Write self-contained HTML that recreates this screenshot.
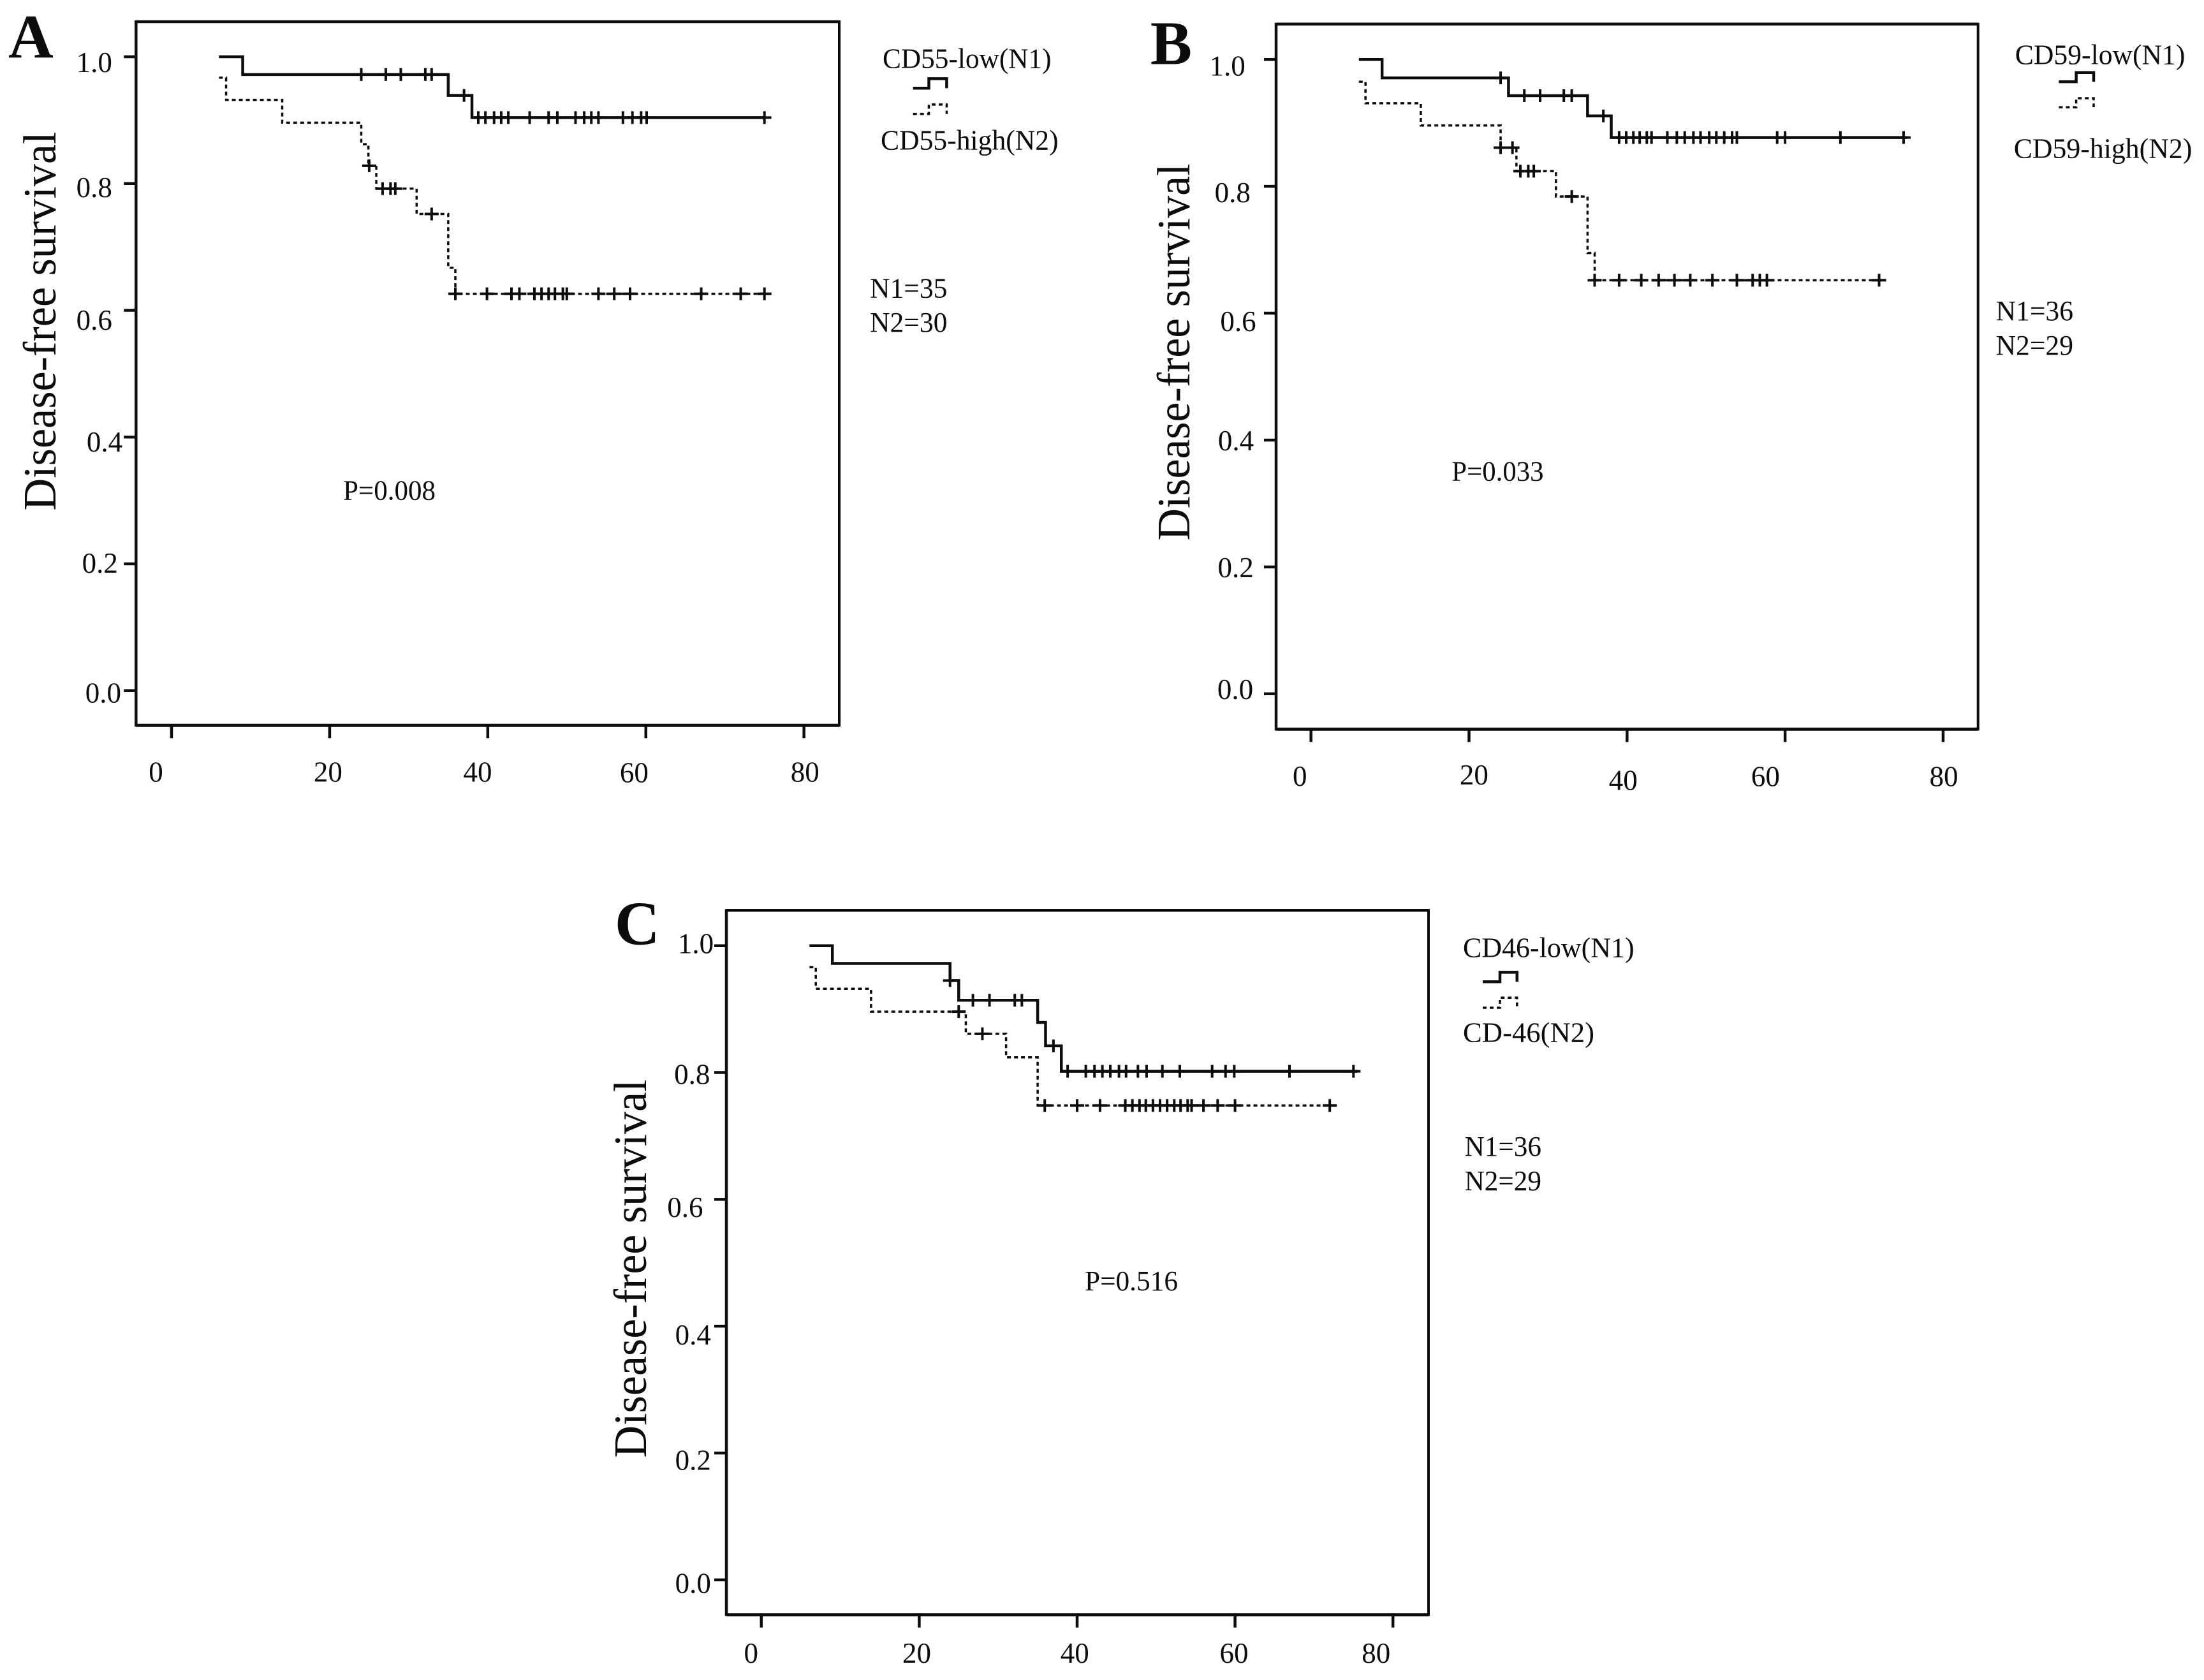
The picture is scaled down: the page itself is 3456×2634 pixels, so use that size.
<!DOCTYPE html>
<html lang="en">
<head>
<meta charset="utf-8">
<title>Disease-free survival by CD55, CD59 and CD46 expression</title>
<style>
html,body{margin:0;padding:0;background:#fff;}
svg{display:block;}
text{font-family:"Liberation Serif","Times New Roman",serif;fill:#0c0c0c;}
.tick{font-size:45px;text-anchor:middle;}
.legend{font-size:44px;}
.title{font-size:73px;text-anchor:middle;}
.letter{font-size:98px;font-weight:bold;}
.frame{stroke:#0c0c0c;fill:none;}
</style>
</head>
<body>
<svg id="figure" xmlns="http://www.w3.org/2000/svg" width="3456" height="2634" viewBox="0 0 3456 2634">
<rect x="0" y="0" width="3456" height="2634" fill="#fff"/>

<g id="panel-a">
<text class="letter" x="13" y="90.5">A</text>
<text class="title" transform="translate(87 503.5) rotate(-90)" textLength="594" lengthAdjust="spacingAndGlyphs">Disease-free survival</text>
<text class="tick" x="147.8" y="112.9">1.0</text>
<text class="tick" x="147.8" y="308.9">0.8</text>
<text class="tick" x="147.8" y="517">0.6</text>
<text class="tick" x="164" y="708">0.4</text>
<text class="tick" x="156.8" y="898">0.2</text>
<text class="tick" x="161.9" y="1101.7">0.0</text>
<text class="tick" x="244.5" y="1225.3">0</text>
<text class="tick" x="514.4" y="1225.3">20</text>
<text class="tick" x="749" y="1225.3">40</text>
<text class="tick" x="994.4" y="1226.3">60</text>
<text class="tick" x="1262.3" y="1225.3">80</text>
<text class="legend" x="1384" y="106.3" textLength="264.6" lengthAdjust="spacingAndGlyphs">CD55-low(N1)</text>
<path class="frame" stroke-width="4.5" d="M1431.7 138.3H1456.5V123.4H1484.4V138.3"/>
<path class="frame" stroke-width="3.5" stroke-dasharray="6 5" d="M1431.7 178.6H1456.5V163.9H1484.4V178.6"/>
<text class="legend" x="1381" y="234.4" textLength="278.6" lengthAdjust="spacingAndGlyphs">CD55-high(N2)</text>
<text class="legend" x="1364" y="466.6" textLength="121.4" lengthAdjust="spacingAndGlyphs">N1=35</text>
<text class="legend" x="1364" y="520" textLength="121.4" lengthAdjust="spacingAndGlyphs">N2=30</text>
<text class="legend" x="538" y="783.4" textLength="145" lengthAdjust="spacingAndGlyphs">P=0.008</text>
</g>

<g id="panel-b">
<text class="letter" x="1803.7" y="100.4">B</text>
<text class="title" transform="translate(1865 552) rotate(-90)" textLength="591" lengthAdjust="spacingAndGlyphs">Disease-free survival</text>
<text class="tick" x="1924.6" y="118.4">1.0</text>
<text class="tick" x="1932.8" y="317">0.8</text>
<text class="tick" x="1941.5" y="519.2">0.6</text>
<text class="tick" x="1938" y="706">0.4</text>
<text class="tick" x="1937.6" y="904.8">0.2</text>
<text class="tick" x="1937" y="1096">0.0</text>
<text class="tick" x="2038.3" y="1231.9">0</text>
<text class="tick" x="2311.4" y="1230">20</text>
<text class="tick" x="2545.3" y="1238.7">40</text>
<text class="tick" x="2768.4" y="1232.3">60</text>
<text class="tick" x="3048" y="1232.3">80</text>
<text class="legend" x="3159.8" y="100.5" textLength="266.6" lengthAdjust="spacingAndGlyphs">CD59-low(N1)</text>
<path class="frame" stroke-width="4.5" d="M3228.4 128.1H3255.6V113.8H3283V128.1"/>
<path class="frame" stroke-width="3.5" stroke-dasharray="6 5" d="M3228.4 168.1H3255.6V154H3283V168.1"/>
<text class="legend" x="3157.7" y="247.7" textLength="279.6" lengthAdjust="spacingAndGlyphs">CD59-high(N2)</text>
<text class="legend" x="3129.6" y="502.2" textLength="121.4" lengthAdjust="spacingAndGlyphs">N1=36</text>
<text class="legend" x="3129.6" y="555.8" textLength="121.4" lengthAdjust="spacingAndGlyphs">N2=29</text>
<text class="legend" x="2276.3" y="753.5" textLength="144.3" lengthAdjust="spacingAndGlyphs">P=0.033</text>
</g>

<g id="panel-c">
<text class="letter" x="963.9" y="1480.6">C</text>
<text class="title" transform="translate(1013 1989) rotate(-90)" textLength="593" lengthAdjust="spacingAndGlyphs">Disease-free survival</text>
<text class="tick" x="1091" y="1494.5">1.0</text>
<text class="tick" x="1085.3" y="1699.5">0.8</text>
<text class="tick" x="1074.4" y="1908">0.6</text>
<text class="tick" x="1086.8" y="2108">0.4</text>
<text class="tick" x="1086.8" y="2304.5">0.2</text>
<text class="tick" x="1086.8" y="2497.6">0.0</text>
<text class="tick" x="1177.8" y="2607">0</text>
<text class="tick" x="1437.5" y="2607">20</text>
<text class="tick" x="1685.2" y="2607">40</text>
<text class="tick" x="1935" y="2607">60</text>
<text class="tick" x="2157.8" y="2607">80</text>
<text class="legend" x="2294" y="1500.5" textLength="268.6" lengthAdjust="spacingAndGlyphs">CD46-low(N1)</text>
<path class="frame" stroke-width="4.5" d="M2325 1539.3H2352V1524.4H2378.8V1539.3"/>
<path class="frame" stroke-width="3.5" stroke-dasharray="6 5" d="M2325 1580H2352V1564.2H2378.8V1580"/>
<text class="legend" x="2294" y="1633.3" textLength="206" lengthAdjust="spacingAndGlyphs">CD-46(N2)</text>
<text class="legend" x="2296.6" y="1812" textLength="120.4" lengthAdjust="spacingAndGlyphs">N1=36</text>
<text class="legend" x="2296.6" y="1866" textLength="120.4" lengthAdjust="spacingAndGlyphs">N2=29</text>
<text class="legend" x="1701" y="2022.9" textLength="146" lengthAdjust="spacingAndGlyphs">P=0.516</text>
</g>
</svg>

<script>
// Shared axis values
const xTickValues = [0, 20, 40, 60, 80];
const yTickValues = [0, 0.2, 0.4, 0.6, 0.8, 1.0];

// Panel A data (months, survival probability)
const panelALowTimes = [6, 9, 35, 38, 75.1];
const panelALowSurvival = [1, 0.972, 0.939, 0.904, 0.904];
const panelALowCensored = [24, 27.1, 29, 32.1, 32.9, 37, 38.8, 39.7, 40.8, 41.7, 42.6, 45.3, 47.7, 48.8, 51.1, 52.2, 53.1, 54, 57.1, 58.3, 59.4, 60.1, 75];
const panelAHighTimes = [6, 6.9, 14, 24, 24.9, 25.9, 31, 35, 35.9, 75.1];
const panelAHighSurvival = [0.967, 0.932, 0.896, 0.862, 0.828, 0.792, 0.752, 0.667, 0.626, 0.626];
const panelAHighCensored = [25, 26.7, 27.7, 28.3, 32.9, 35.9, 39.9, 43, 44, 45.9, 46.8, 47.7, 48.5, 49.5, 50, 54, 56, 58, 67, 72, 75];

// Panel B data
const panelBLowTimes = [6.06, 9, 25, 35, 38, 75.4];
const panelBLowSurvival = [1, 0.971, 0.943, 0.911, 0.877, 0.877];
const panelBLowCensored = [24, 27, 29, 32, 33, 37, 39, 39.9, 40.8, 41.6, 42.5, 43.1, 45.1, 46.3, 47.3, 48.4, 49.3, 50.4, 51.3, 52.3, 53.3, 53.9, 59, 60, 67, 75];
const panelBHighTimes = [6.06, 6.9, 13.9, 24, 26, 31, 35, 35.9, 72.2];
const panelBHighSurvival = [0.965, 0.931, 0.896, 0.861, 0.824, 0.784, 0.695, 0.652, 0.652];
const panelBHighCensored = [24, 25.5, 26.5, 27.5, 28.2, 33, 35.9, 39, 41.8, 44, 46, 48, 50.8, 53.9, 55.9, 56.8, 57.7, 71.9];

// Panel C data
const panelCLowTimes = [6.1, 9, 23.9, 25, 35, 36, 38, 75.5];
const panelCLowSurvival = [1, 0.972, 0.945, 0.914, 0.879, 0.842, 0.802, 0.802];
const panelCLowCensored = [23.9, 26.8, 28.9, 32.1, 33, 37, 38.8, 41.1, 42.2, 43.2, 44.2, 45.3, 46.2, 47.7, 48.8, 50.8, 53, 57.1, 58.8, 59.9, 66.9, 75];
const panelCHighTimes = [6.1, 6.9, 13.9, 25.9, 31, 35, 72.2];
const panelCHighSurvival = [0.966, 0.932, 0.896, 0.861, 0.824, 0.748, 0.748];
const panelCHighCensored = [25, 28, 35.9, 40, 42.9, 46.1, 47, 47.9, 48.7, 49.6, 50.5, 51.4, 52.3, 53.1, 54, 54.5, 56, 57.8, 60, 72];

const NS = 'http://www.w3.org/2000/svg';
const INK = '#0c0c0c';

function add(parent, tag, attrs) {
  const el = document.createElementNS(NS, tag);
  for (const k in attrs) el.setAttribute(k, attrs[k]);
  parent.appendChild(el);
  return el;
}

function survivalAt(times, survival, t) {
  let s = survival[0];
  for (let i = 0; i < times.length; i++) {
    if (t >= times[i]) s = survival[i];
  }
  return s;
}

function drawSeries(group, sx, sy, times, survival, censored, key, dashed) {
  let d = 'M' + sx(times[0]) + ' ' + sy(survival[0]);
  for (let i = 1; i < times.length; i++) {
    d += 'H' + sx(times[i]);
    d += 'V' + sy(survival[i]);
  }
  const curve = add(group, 'path', {
    d: d,
    fill: 'none',
    stroke: INK,
    'stroke-width': dashed ? 3.5 : 4.5,
    'stroke-dasharray': dashed ? '6 5' : 'none'
  });
  
  

  censored.forEach(function (t) {
    const cx = sx(t);
    const cy = sy(survivalAt(times, survival, t));
    const mark = add(group, 'path', {
      d: 'M' + (cx - 11) + ' ' + cy + 'H' + (cx + 11) + 'M' + cx + ' ' + (cy - 10) + 'V' + (cy + 10),
      fill: 'none',
      stroke: INK,
      'stroke-width': 4
    });
    
    
  });
}

function drawPanel(panelId, box, lowTimes, lowSurvival, lowCensored, highTimes, highSurvival, highCensored) {
  const group = document.getElementById(panelId);
  const sx = function (t) { return box.x0 + t * box.xUnit; };
  const sy = function (s) { return box.y0 - s * box.yUnit; };

  const edgeLeft = add(group, 'line', { x1: box.left, x2: box.left, y1: box.top - 2, y2: box.bottom + 2, stroke: INK, 'stroke-width': 4.5 });
  
  
  const edgeRight = add(group, 'line', { x1: box.right, x2: box.right, y1: box.top - 2, y2: box.bottom + 2, stroke: INK, 'stroke-width': 4 });
  
  
  const edgeTop = add(group, 'line', { x1: box.left, x2: box.right, y1: box.top, y2: box.top, stroke: INK, 'stroke-width': 4.5 });
  
  
  const edgeBottom = add(group, 'line', { x1: box.left, x2: box.right, y1: box.bottom, y2: box.bottom, stroke: INK, 'stroke-width': 5 });
  
  

  xTickValues.forEach(function (v) {
    const tick = add(group, 'line', { x1: sx(v), x2: sx(v), y1: box.bottom, y2: box.bottom + 20, stroke: INK, 'stroke-width': 4.5 });
    
    
  });
  yTickValues.forEach(function (v) {
    const tick = add(group, 'line', { x1: box.left - 19, x2: box.left, y1: sy(v), y2: sy(v), stroke: INK, 'stroke-width': 4.5 });
    
    
  });

  drawSeries(group, sx, sy, lowTimes, lowSurvival, lowCensored, 'low', false);
  drawSeries(group, sx, sy, highTimes, highSurvival, highCensored, 'high', true);
}

drawPanel('panel-a', { x0: 269, xUnit: 12.396, y0: 1082.7, yUnit: 993.7, left: 213.3, right: 1316, top: 34, bottom: 1137.3 },
  panelALowTimes, panelALowSurvival, panelALowCensored, panelAHighTimes, panelAHighSurvival, panelAHighCensored);
drawPanel('panel-b', { x0: 2055.7, xUnit: 12.39, y0: 1087.7, yUnit: 994.4, left: 2001, right: 3101.7, top: 37.7, bottom: 1143.3 },
  panelBLowTimes, panelBLowSurvival, panelBLowCensored, panelBHighTimes, panelBHighSurvival, panelBHighCensored);
drawPanel('panel-c', { x0: 1193.8, xUnit: 12.38, y0: 2477, yUnit: 994.3, left: 1139, right: 2240, top: 1427.3, bottom: 2531.7 },
  panelCLowTimes, panelCLowSurvival, panelCLowCensored, panelCHighTimes, panelCHighSurvival, panelCHighCensored);
</script>
</body>
</html>
